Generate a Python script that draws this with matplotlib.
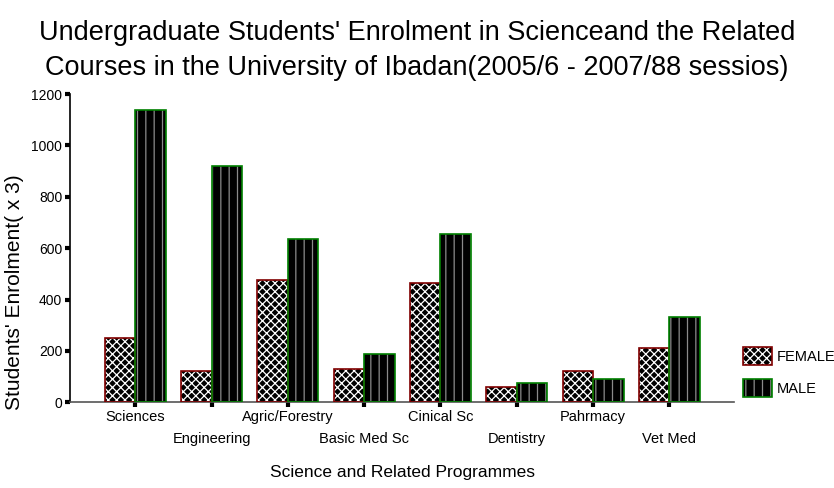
import matplotlib
matplotlib.use("Agg")
import matplotlib.pyplot as plt
from matplotlib.patches import Patch
import numpy as np

categories = ["Sciences", "Engineering", "Agric/Forestry", "Basic Med Sc",
              "Cinical Sc", "Dentistry", "Pahrmacy", "Vet Med"]
female = [249, 123, 476, 128, 466, 58, 123, 210]
male = [1138, 920, 637, 188, 654, 74, 91, 333]
yticks = [0, 200, 400, 600, 800, 1000, 1200]

plt.rcParams['font.family'] = ['Liberation Sans', 'DejaVu Sans']
plt.rcParams['hatch.linewidth'] = 0.9

W, H = 834, 488
fig = plt.figure(figsize=(W / 100, H / 100), dpi=100)
ax = fig.add_axes([70 / W, 1 - 402.3 / H, 664 / W, 308.3 / H])

x = np.arange(len(categories))
bw = 0.4
fem_col = '#800000'
male_col = '#008000'

# female bars: black with white cross hatch, dark red outline
ax.bar(x - bw / 2, female, bw, facecolor='black', edgecolor='white',
       hatch='xxxx', linewidth=0, zorder=2)
ax.bar(x - bw / 2, female, bw, fill=False, edgecolor=fem_col,
       linewidth=1.2, zorder=3)
# male bars: black with grey vertical lines, green outline
ax.bar(x + bw / 2, male, bw, facecolor='black', edgecolor='#8a8a8a',
       hatch='||', linewidth=0, zorder=2)
ax.bar(x + bw / 2, male, bw, fill=False, edgecolor=male_col,
       linewidth=1.2, zorder=3)

ax.set_xlim(-0.856, 7.848)
ax.set_ylim(0, 1200)
ax.set_yticks(yticks)
ax.set_yticklabels([str(v) for v in yticks], fontsize=10)

# alternate rows of category labels: even ones on major ticks, odd ones on minor ticks
ax.set_xticks(x[0::2])
ax.set_xticklabels(categories[0::2], fontsize=10.5)
ax.set_xticks(x[1::2], minor=True)
ax.set_xticklabels(categories[1::2], minor=True, fontsize=10.5)

for s in ['top', 'right']:
    ax.spines[s].set_visible(False)
ax.spines['left'].set_color('black')
ax.spines['left'].set_linewidth(1.2)
ax.spines['bottom'].set_color('#555555')
ax.spines['bottom'].set_linewidth(1.2)
ax.tick_params(axis='both', which='both', direction='out', length=3.5, width=3,
               color='black', pad=2)
ax.tick_params(axis='x', which='minor', pad=18)

fig.text(15 / W, 1 - 292 / H, "Students' Enrolment( x 3)", rotation=90,
         ha='center', va='center', fontsize=15)
fig.text(402 / W, 1 - 472 / H, "Science and Related Programmes",
         ha='center', va='center', fontsize=12.5)

fig.text(417 / W, 1 - 33 / H, "Undergraduate Students' Enrolment in Scienceand the Related",
         ha='center', va='center', fontsize=19.5)
fig.text(417 / W, 1 - 68 / H, "Courses in the University of Ibadan(2005/6 - 2007/88 sessios)",
         ha='center', va='center', fontsize=19.5)

h_f = (Patch(facecolor='black', edgecolor='white', hatch='xxxx', linewidth=0),
       Patch(fill=False, edgecolor=fem_col, linewidth=1.2))
h_m = (Patch(facecolor='black', edgecolor='#8a8a8a', hatch='||', linewidth=0),
       Patch(fill=False, edgecolor=male_col, linewidth=1.2))
fig.legend([h_f, h_m], ["FEMALE", "MALE"], loc='upper left',
           bbox_to_anchor=(743 / W, 1 - 347 / H), frameon=False, fontsize=10.5,
           handlelength=2.0, handleheight=1.5, labelspacing=1.0,
           handletextpad=0.3, borderpad=0, borderaxespad=0)

fig.savefig("out.png", dpi=100)
